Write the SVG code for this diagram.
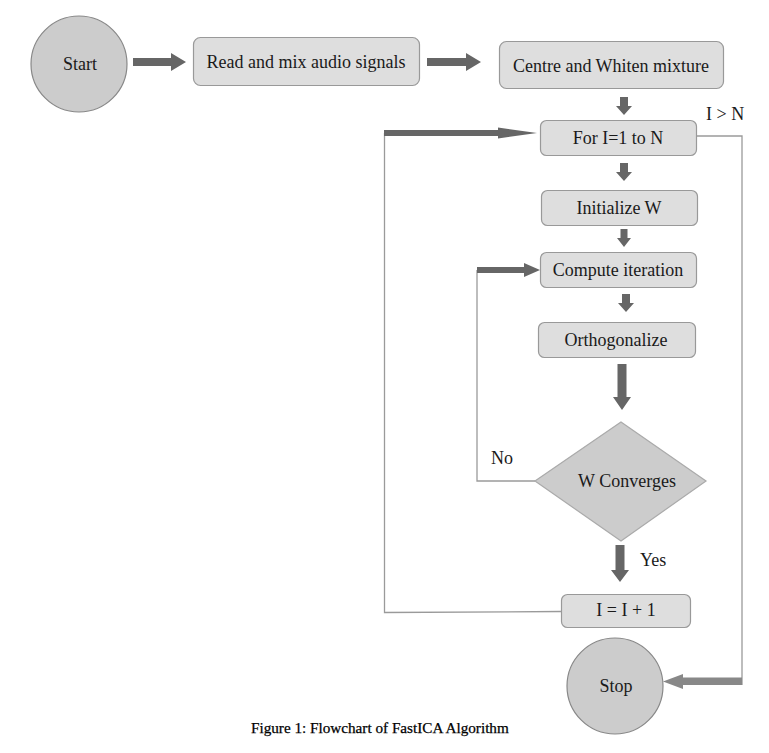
<svg xmlns="http://www.w3.org/2000/svg" width="769" height="753" viewBox="0 0 769 753">
<style>
.box{fill:#dedede;stroke:#999;stroke-width:1.2}
.term{fill:#cccccc;stroke:#888;stroke-width:1.2}
.dec{fill:#cccccc;stroke:#aaa;stroke-width:1.2}
.t{font-family:"Liberation Serif","Times New Roman",serif;font-size:18px;fill:#1a1a1a;text-anchor:middle}
.lbl{font-family:"Liberation Serif","Times New Roman",serif;font-size:18px;fill:#1a1a1a}
.cap{font-family:"Liberation Serif","Times New Roman",serif;font-size:15.2px;fill:#000;stroke:#000;stroke-width:0.25}
.line{fill:none;stroke:#9a9a9a;stroke-width:1.3}
.arr{fill:#666}
.arr2{fill:#888}
</style>
<rect width="769" height="753" fill="#fff"/>
<g id="connectors">
<path class="line" d="M697 136 H742 V685"/>
<path class="line" d="M561 611.5 L384.5 612.5 V133"/>
<path class="line" d="M477 270 V481 H535"/>
<polygon class="arr" points="133,58 171,58 171,53 186,62 171,71 171,66 133,66"/>
<polygon class="arr" points="427,58 466,58 466,53 481,62 466,71 466,66 427,66"/>
<polygon class="arr" points="620,97 628,97 628,106 632,106 624,115 616,106 620,106"/>
<polygon class="arr" points="384,130 498,130 498,127.5 537,133 498,138.5 498,136 384,136"/>
<polygon class="arr" points="620,163 628,163 628,172 632,172 624,181 616,172 620,172"/>
<polygon class="arr" points="620.5,229 627.5,229 627.5,238 631,238 624,247 617,238 620.5,238"/>
<polygon class="arr" points="477,267 524,267 524,263 540,270 524,277 524,273 477,273"/>
<polygon class="arr" points="622,294 630,294 630,303 634,303 626,312 618,303 622,303"/>
<polygon class="arr" points="617.5,364 626.5,364 626.5,397 631,397 622,410 613,397 617.5,397"/>
<polygon class="arr" points="615.5,545 624.5,545 624.5,570 629,570 620,582 611,570 615.5,570"/>
<polygon class="arr2" points="742,677.5 683,677.5 683,674 663,681.5 683,689 683,685 742,685"/>
</g>
<g id="start">
<circle class="term" cx="79" cy="64" r="48"/>
<text class="t" x="80" y="70">Start</text>
</g>
<g id="read">
<rect class="box" x="193.5" y="37.5" width="226" height="48" rx="7"/>
<text class="t" x="306" y="68">Read and mix audio signals</text>
</g>
<g id="centre">
<rect class="box" x="499.5" y="41.5" width="224" height="47" rx="7"/>
<text class="t" x="611" y="72">Centre and Whiten mixture</text>
</g>
<g id="label-ign">
<text class="lbl" x="706" y="120">I &gt; N</text>
</g>
<g id="for">
<rect class="box" x="540.5" y="120.5" width="156" height="35" rx="6"/>
<text class="t" x="618" y="144">For I=1 to N</text>
</g>
<g id="init">
<rect class="box" x="541.5" y="190.5" width="156" height="35" rx="6"/>
<text class="t" x="619" y="214">Initialize W</text>
</g>
<g id="compute">
<rect class="box" x="540.5" y="252.5" width="156" height="35" rx="6"/>
<text class="t" x="618" y="276">Compute iteration</text>
</g>
<g id="ortho">
<rect class="box" x="538.5" y="322.5" width="157" height="35" rx="6"/>
<text class="t" x="616" y="346">Orthogonalize</text>
</g>
<g id="converge">
<polygon class="dec" points="621,422 706,481 621,541 535,481"/>
<text class="t" x="627" y="487">W Converges</text>
</g>
<g id="label-no">
<text class="lbl" x="491" y="464">No</text>
</g>
<g id="label-yes">
<text class="lbl" x="640" y="566">Yes</text>
</g>
<g id="incr">
<rect class="box" x="561.5" y="594.5" width="129" height="33" rx="6"/>
<text class="t" x="626" y="616">I = I + 1</text>
</g>
<g id="stop">
<circle class="term" cx="615" cy="686" r="48"/>
<text class="t" x="616" y="692">Stop</text>
</g>
<g id="caption">
<text class="cap" x="251" y="733">Figure 1: Flowchart of FastICA Algorithm</text>
</g>
</svg>
